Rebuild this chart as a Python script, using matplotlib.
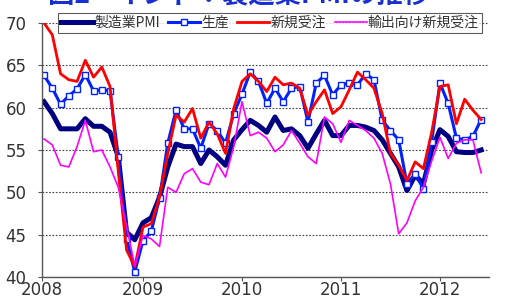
import matplotlib
matplotlib.use("Agg")
import matplotlib.pyplot as plt
import numpy as np

plt.rcParams['font.family'] = ['Noto Sans CJK JP', 'DejaVu Sans']

# monthly, Jan 2008 - Jun 2012
pmi = [60.7, 59.3, 57.5, 57.5, 57.5, 58.7, 57.8, 57.8, 57.1, 54.2, 45.3, 44.4,
       46.4, 47.0, 49.4, 53.0, 55.7, 55.4, 55.4, 53.4, 55.0, 54.2, 53.2, 56.2,
       57.4, 58.5, 57.9, 57.1, 58.9, 57.3, 57.5, 56.7, 55.2, 56.9, 58.5, 56.7,
       56.7, 57.9, 57.9, 57.7, 57.3, 56.2, 54.6, 53.0, 50.2, 52.0, 51.0, 55.0,
       57.4, 56.6, 54.8, 54.7, 54.7, 55.0]
output = [63.8, 62.3, 60.4, 61.4, 62.2, 63.9, 62.0, 62.1, 62.0, 54.2, 44.5, 40.6,
          44.3, 45.4, 49.3, 55.8, 59.7, 57.5, 57.5, 55.2, 58.1, 57.3, 55.8, 59.3,
          61.6, 64.2, 63.1, 60.5, 62.3, 60.7, 62.3, 62.5, 58.3, 62.9, 63.8, 61.5,
          62.7, 62.9, 62.7, 64.0, 63.3, 58.5, 57.3, 56.2, 51.0, 52.2, 50.4, 56.0,
          62.9, 60.5, 56.4, 56.2, 56.6, 58.6]
new_orders = [70.0, 68.6, 64.0, 63.3, 63.1, 65.6, 63.6, 64.8, 62.5, 52.5, 43.2, 41.2,
              45.9, 46.3, 49.4, 54.6, 59.1, 58.3, 59.9, 56.4, 58.3, 56.9, 54.6, 59.9,
              63.1, 64.0, 63.1, 61.9, 63.6, 62.7, 62.9, 62.3, 59.1, 60.7, 62.1, 59.3,
              60.1, 62.1, 64.2, 63.3, 62.3, 59.3, 54.6, 53.2, 51.4, 53.6, 52.8, 57.1,
              62.5, 62.7, 58.1, 61.0, 59.7, 58.6]
export_orders = [56.3, 55.6, 53.2, 53.0, 55.4, 58.5, 54.8, 55.0, 53.0, 50.6, 46.0, 41.3,
                 44.9, 44.5, 43.6, 50.6, 50.0, 52.2, 52.8, 51.2, 50.9, 53.4, 51.8, 55.4,
                 60.7, 56.7, 57.1, 56.4, 54.8, 55.6, 57.3, 55.8, 54.2, 53.4, 58.9, 58.1,
                 55.9, 58.5, 57.9, 57.3, 56.4, 54.6, 51.0, 45.1, 46.4, 49.0, 50.6, 53.7,
                 56.5, 54.0, 55.8, 56.2, 56.2, 52.3]
years = ['2008', '2009', '2010', '2011', '2012']

x = np.arange(len(pmi))

fig = plt.figure(figsize=(5.07, 2.96), dpi=100)
ax = fig.add_axes([42/507, 1-277/296, (489-42)/507, (277-23)/296])

ax.plot(x, pmi, color='#000080', lw=3.6, label='製造業PMI', solid_joinstyle='round')
ax.plot(x, output, color='#0022ff', lw=2.2, marker='s', ms=3.8, mfc='white',
        mec='#0022ff', mew=1.0, label='生産')
ax.plot(x, new_orders, color='#ff0000', lw=2.0, label='新規受注')
ax.plot(x, export_orders, color='#ff00ff', lw=1.2, label='輸出向け新規受注')

ax.set_xlim(-0.25, 53.95)
ax.set_ylim(40, 70)
ax.set_yticks(range(40, 71, 5))
ax.set_xticks(np.arange(len(years)) * 12 - np.array([0.25, 0, 0, 0, 0]))
ax.set_xticklabels(years)
for t in ax.get_xticklabels() + ax.get_yticklabels():
    t.set_family(['Liberation Sans Narrow', 'DejaVu Sans'])
    t.set_fontsize(12)
    t.set_color('#333333')
ax.tick_params(axis='both', length=3, width=0.8, color='#555555')
ax.tick_params(axis='y', pad=8)
ax.tick_params(axis='x', pad=0)

ax.grid(axis='y', linestyle=(0, (1.5, 1.5)), color='#444444', lw=0.8)
ax.set_axisbelow(True)
for s in ['top', 'right']:
    ax.spines[s].set_visible(False)
for s in ['left', 'bottom']:
    ax.spines[s].set_color('#555555')
    ax.spines[s].set_linewidth(1.0)

leg = ax.legend(loc='upper left', bbox_to_anchor=(16/447, 1+10/254), ncol=4,
                frameon=True, fancybox=False, edgecolor='#333333',
                fontsize=10, handlelength=2.3, handletextpad=0.1,
                columnspacing=0.6, borderpad=0.2, borderaxespad=0)
leg.get_frame().set_linewidth(0.8)
for t in leg.get_texts():
    t.set_color('#333333')

fig.text(0.47, 1-9/296, '図2　インド：製造業PMIの推移', color='#1a2fd0',
         fontsize=19, fontweight='bold', ha='center', va='bottom')

fig.savefig('out.png', dpi=100)
